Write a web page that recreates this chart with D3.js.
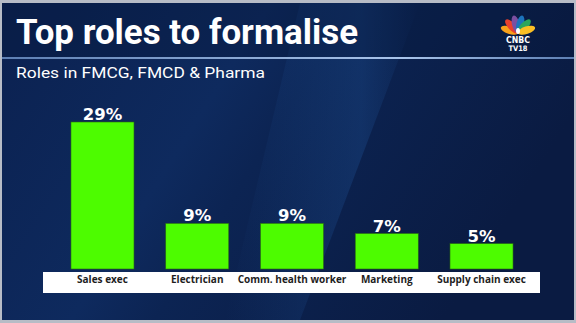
<!DOCTYPE html>
<html>
<head>
<meta charset="utf-8">
<script src="https://cdn.jsdelivr.net/npm/d3@7"></script>
<style>
html,body{margin:0;padding:0;background:#b9bec8;}
svg{display:block;}
</style>
</head>
<body>
<svg id="chart" width="576" height="323"></svg>
<script>
const categories = ["Sales exec", "Electrician", "Comm. health worker", "Marketing", "Supply chain exec"];
const values = [29, 9, 9, 7, 5];
const valueLabels = ["29%", "9%", "9%", "7%", "5%"];
const title = "Top roles to formalise";
const subtitle = "Roles in FMCG, FMCD & Pharma";

const svg = d3.select("#chart");
const W = 576, H = 323;
const defs = svg.append("defs");

const bg = defs.append("linearGradient").attr("id","bg").attr("x1","0").attr("y1","0").attr("x2","1").attr("y2","0.35");
bg.append("stop").attr("offset","0").attr("stop-color","#0b2150");
bg.append("stop").attr("offset","0.42").attr("stop-color","#0e2a5e");
bg.append("stop").attr("offset","0.55").attr("stop-color","#0c2453");
bg.append("stop").attr("offset","1").attr("stop-color","#0a1b42");

const streak = defs.append("linearGradient").attr("id","streak").attr("x1","0").attr("y1","0").attr("x2","1").attr("y2","0");
streak.append("stop").attr("offset","0").attr("stop-color","#1d4f93").attr("stop-opacity","0");
streak.append("stop").attr("offset","0.7").attr("stop-color","#1d4f93").attr("stop-opacity","0.35");
streak.append("stop").attr("offset","1").attr("stop-color","#1d4f93").attr("stop-opacity","0");

const line = defs.append("linearGradient").attr("id","sep").attr("x1","0").attr("y1","0").attr("x2","1").attr("y2","0");
line.append("stop").attr("offset","0").attr("stop-color","#5d7fb3");
line.append("stop").attr("offset","0.7").attr("stop-color","#a9c4ea");
line.append("stop").attr("offset","1").attr("stop-color","#5d7fb3");

// frame
svg.append("rect").attr("x",0).attr("y",0).attr("width",W).attr("height",H).attr("fill","#b7bcc6");
svg.append("rect").attr("x",2).attr("y",3).attr("width",W-4).attr("height",H-6).attr("fill","url(#bg)");
svg.append("path")
  .attr("d", `M300,3 L420,3 L300,320 L225,320 Z`)
  .attr("fill","url(#streak)");
svg.append("rect").attr("x",2).attr("y",3).attr("width",W-4).attr("height",55).attr("fill","#071739").attr("opacity",0.35);

// title
svg.append("text").attr("x",16).attr("y",44)
  .attr("font-family","Roboto, 'Open Sans', sans-serif").attr("font-weight",700)
  .attr("font-size",35).attr("fill","#ffffff")
  .attr("textLength",342).attr("lengthAdjust","spacingAndGlyphs")
  .text(title);

// separator
svg.append("rect").attr("x",2).attr("y",57).attr("width",W-4).attr("height",2).attr("fill","url(#sep)");

// subtitle
svg.append("text").attr("x",16).attr("y",78)
  .attr("font-family","Roboto, 'Open Sans', sans-serif").attr("font-weight",400)
  .attr("font-size",15).attr("fill","#ffffff")
  .attr("textLength",249).attr("lengthAdjust","spacingAndGlyphs")
  .text(subtitle);

// logo
const logo = svg.append("g").attr("transform","translate(518,33)");
const angles = [-72,-43,-14,14,43,72];
const cols = ["#f7a11a","#e8412d","#7b4fa0","#1c74bc","#2ca55c","#fbbf24"];
angles.forEach((a,i)=>{
  logo.append("ellipse").attr("cx",0).attr("cy",-9).attr("rx",3.8).attr("ry",9)
    .attr("fill",cols[i]).attr("transform",`rotate(${a})`);
});
logo.append("ellipse").attr("cx",0).attr("cy",-2).attr("rx",2).attr("ry",3).attr("fill","#fff");
logo.append("text").attr("x",0).attr("y",10).attr("text-anchor","middle")
  .attr("font-family","'DejaVu Sans', sans-serif").attr("font-weight",700).attr("font-size",9).attr("fill","#fff")
  .attr("textLength",24).attr("lengthAdjust","spacingAndGlyphs").text("CNBC");
logo.append("text").attr("x",0).attr("y",17.5).attr("text-anchor","middle")
  .attr("font-family","'DejaVu Sans', sans-serif").attr("font-weight",700).attr("font-size",7.5).attr("fill","#fff")
  .attr("textLength",19).attr("lengthAdjust","spacingAndGlyphs").text("TV18");

// scales
const x = d3.scaleBand().domain(categories).range([55.1, 528.9]).paddingInner(0.335).paddingOuter(0.1675);
const y = d3.scaleLinear().domain([0, 29]).range([269, 122]);

// label strip
svg.append("rect").attr("x",43).attr("y",272).attr("width",497).attr("height",21).attr("fill","#ffffff");

// bars
svg.append("g").selectAll("rect").data(values).join("rect")
  .attr("x",(d,i)=>x(categories[i]))
  .attr("y",d=>y(d))
  .attr("width",x.bandwidth())
  .attr("height",d=>y(0)-y(d))
  .attr("fill","#4dfc00")
  .attr("stroke","#2a6a10").attr("stroke-width",0.6);

// value labels
svg.append("g").selectAll("text").data(values).join("text")
  .attr("x",(d,i)=>x(categories[i])+x.bandwidth()/2)
  .attr("y",d=>y(d)-2)
  .attr("text-anchor","middle")
  .attr("font-family","'DejaVu Sans', sans-serif").attr("font-weight",700)
  .attr("font-size",16.5).attr("fill","#ffffff")
  .text((d,i)=>valueLabels[i]);

// category axis
const axis = d3.axisBottom(x).tickSize(0).tickPadding(0);
const ag = svg.append("g").attr("transform","translate(0,276)").call(axis);
ag.select(".domain").remove();
ag.selectAll("text")
  .attr("font-family","'Open Sans', Roboto, sans-serif").attr("font-weight",700)
  .attr("font-size",10).attr("fill","#1e1e1e").attr("dy","0.71em");
</script>
</body>
</html>
